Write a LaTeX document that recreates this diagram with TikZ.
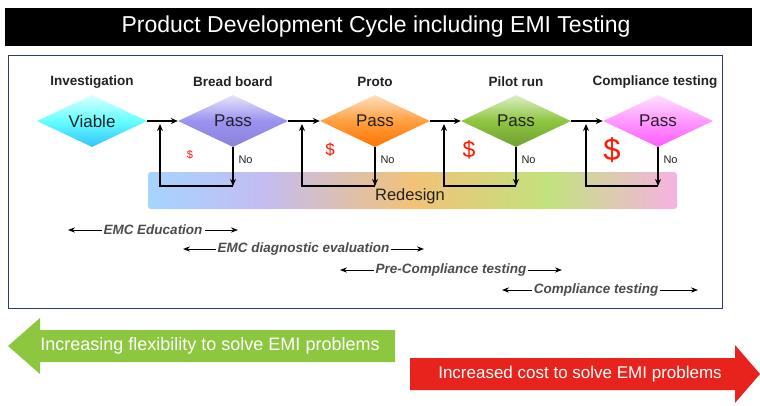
\documentclass[tikz,border=0pt]{standalone}
\usepackage{fontspec}
\setmainfont{Liberation Sans}
\usetikzlibrary{shapes.geometric,arrows.meta}
\definecolor{navy}{HTML}{2B3A80}
\definecolor{dk}{HTML}{222222}
\definecolor{garrow}{HTML}{8DC63F}
\definecolor{rarrow}{HTML}{E8221C}
\definecolor{rb1}{HTML}{A6D4FF}
\definecolor{rb2}{HTML}{C4BCF2}
\definecolor{rb3}{HTML}{F2C277}
\definecolor{rb4}{HTML}{C2E27E}
\definecolor{rb5}{HTML}{F7B2E2}
\definecolor{pur}{HTML}{9A92F0}
\pgfdeclarehorizontalshading{redesign}{100bp}{color(0bp)=(rb1); color(25bp)=(rb1); color(36bp)=(rb2); color(50bp)=(rb3); color(63bp)=(rb4); color(75bp)=(rb5); color(100bp)=(rb5)}
\tikzset{
  hdr/.style={font=\bfseries\fontsize{13.5}{16}\selectfont, text=dk},
  dia/.style={diamond, draw=none, minimum width=110pt, minimum height=52pt, aspect=2.1, inner sep=0pt, font=\fontsize{17}{19}\selectfont, text=dk},
  flow/.style={-{Stealth[length=7pt,width=6pt]}, line width=1.2pt, black},
  nolab/.style={font=\fontsize{11}{13}\selectfont, text=dk, anchor=west},
  dollar/.style={text=red!80!orange},
  rng/.style={{Stealth[length=7pt]}-{Stealth[length=7pt]}, line width=1pt, black},
  rlab/.style={font=\bfseries\itshape\fontsize{13.5}{15}\selectfont, text=gray!60!black, fill=white, inner sep=2pt},
}
\begin{document}
\begin{tikzpicture}[x=1pt,y=-1pt]
\useasboundingbox (0,0) rectangle (760,405);
\fill[white] (0,0) rectangle (760,405);
\fill[black] (5,8) rectangle (752,46);
\node[text=white, font=\fontsize{23}{26}\selectfont] (title) at (376,27) {Product Development Cycle including EMI Testing};
\draw[navy, line width=1pt] (8,55) rectangle (722,308);
\shade[shading=redesign, rounded corners=3pt] (148,172) rectangle (677,209);
\node[font=\fontsize{16.5}{19}\selectfont, text=dk] (redesign) at (410,196) {Redesign};
\node[hdr] (h1) at (92,82) {Investigation};
\node[hdr] (h2) at (233,82) {Bread board};
\node[hdr] (h3) at (375,82) {Proto};
\node[hdr] (h4) at (516,82) {Pilot run};
\node[hdr] (h5) at (655,82) {Compliance testing};
\node[dia, top color=cyan!15, bottom color=cyan!70!blue!80, middle color=cyan!60] (d1) at (92,121) {Viable};
\node[dia, top color=pur!25, bottom color=pur!90!black, middle color=pur] (d2) at (233,121) {Pass};
\node[dia, top color=orange!25, bottom color=orange!90!red, middle color=orange!75] (d3) at (375,121) {Pass};
\node[dia, top color=garrow!30, bottom color=garrow!80!black, middle color=garrow] (d4) at (516,121) {Pass};
\node[dia, top color=magenta!12, bottom color=magenta!65, middle color=magenta!40] (d5) at (658,121) {Pass};
\foreach \a/\b in {d1/d2,d2/d3,d3/d4,d4/d5}{
  \draw[flow] (\a.east) -- (\b.west);
}
\foreach \d/\x/\lx in {d2/233/160,d3/375/302,d4/516/444,d5/658/586}{
  \coordinate (bot\d) at (\x,186);
  \draw[flow] (\d.south) -- (bot\d);
  \draw[flow] (bot\d) -| (\lx,124);
  \node[nolab] (no\d) at (\x+2,160) {No};
}
\node[dollar, font=\fontsize{11}{12}\selectfont] (s1) at (190,155) {\$};
\node[dollar, font=\fontsize{17}{19}\selectfont] (s2) at (330,150) {\$};
\node[dollar, font=\fontsize{23}{25}\selectfont] (s3) at (469,150) {\$};
\node[dollar, font=\fontsize{31}{33}\selectfont] (s4) at (612,150) {\$};
\coordinate (r1a) at (68,230); \coordinate (r1b) at (238,230);
\coordinate (r2a) at (183,249); \coordinate (r2b) at (424,249);
\coordinate (r3a) at (340,270); \coordinate (r3b) at (562,270);
\coordinate (r4a) at (502,290); \coordinate (r4b) at (698,290);
\draw[rng] (r1a) -- (r1b) node[rlab, midway] (l1) {EMC Education};
\draw[rng] (r2a) -- (r2b) node[rlab, midway] (l2) {EMC diagnostic evaluation};
\draw[rng] (r3a) -- (r3b) node[rlab, midway] (l3) {Pre-Compliance testing};
\draw[rng] (r4a) -- (r4b) node[rlab, pos=0.48] (l4) {Compliance testing};
\fill[garrow] (395,330) -- (40,330) -- (40,318) -- (8,346) -- (40,374) -- (40,362) -- (395,362) -- cycle;
\node[text=white, font=\fontsize{18}{20}\selectfont] (ga) at (210,346) {Increasing flexibility to solve EMI problems};
\fill[rarrow] (410,358) -- (735,358) -- (735,345) -- (760,374) -- (735,403) -- (735,390) -- (410,390) -- cycle;
\node[text=white, font=\fontsize{17}{19}\selectfont] (ra) at (580,374) {Increased cost to solve EMI problems};
\end{tikzpicture}
\end{document}
